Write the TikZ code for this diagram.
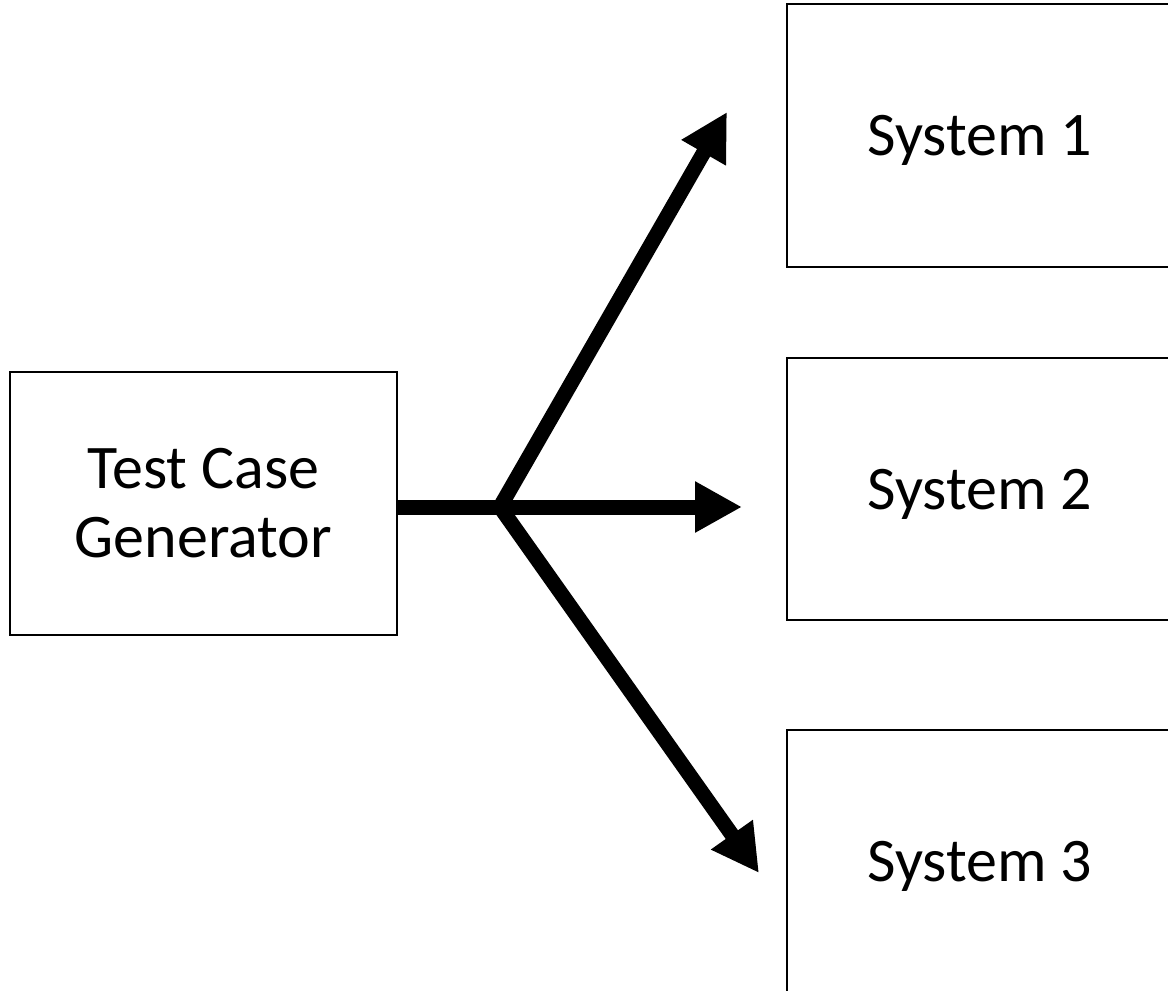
\documentclass[tikz,border=0pt]{standalone}
\usepackage{fontspec}
\setmainfont{Carlito}
\usetikzlibrary{arrows.meta,positioning}

\tikzset{
  box/.style={draw,line width=2pt,align=center,inner sep=0pt,
    font=\fontsize{62}{69}\selectfont},
  sysbox/.style={box,text depth=0pt,minimum width=386pt,minimum height=263pt},
  flowarrow/.style={line width=15pt,-{Triangle[length=47pt,width=48pt]}}
}

\begin{document}
\begin{tikzpicture}[x=1pt,y=-1pt]
  \useasboundingbox (0,0) rectangle (1168,991);
  % Boxes
  \node[box,minimum width=387pt,minimum height=263pt] (gen) at (203.5,503.5) {Test Case\\Generator};
  \node[sysbox] (sys1) at (980,135.5) {System 1};
  \node[sysbox,minimum height=262pt] (sys2) at (980,489) {System 2};
  \node[sysbox] (sys3) at (980,861.5) {System 3};

  % Fan-out arrows
  \coordinate (branch) at (500,507);
  \coordinate (tip1) at (727,112);
  \coordinate (tip2) at (742,507);
  \coordinate (tip3) at (759,873);
  \draw[flowarrow] (gen.east |- branch) -- (tip2);
  \draw[flowarrow] (branch) -- (tip1);
  \draw[flowarrow] (branch) -- (tip3);
\end{tikzpicture}
\end{document}
